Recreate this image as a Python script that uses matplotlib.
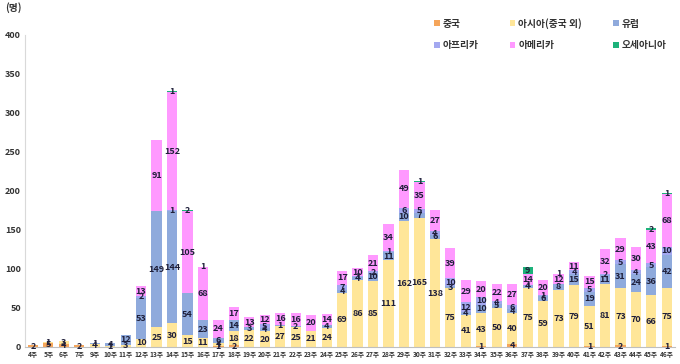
# Weekly stacked bar chart by region

import matplotlib.pyplot as plt
import numpy as np

plt.rcParams['font.family'] = ['Noto Sans CJK KR', 'DejaVu Sans']

# Data (persons per week)
weeks = [4, 5, 6, 7, 9, 10, 11, 12, 13, 14, 15, 16, 17, 18, 19, 20, 21, 22, 23, 24,
         25, 26, 27, 28, 29, 30, 31, 32, 33, 34, 35, 36, 37, 38, 39, 40, 41, 42, 43,
         44, 45, 46]
labels = [f"{w}주" for w in weeks]

china = [2, 5, 4, 2, 0, 0, 0, 0, 0, 0, 0, 0, 1, 2, 0, 0, 0, 0, 0, 0,
         0, 0, 0, 0, 0, 0, 0, 0, 0, 1, 0, 4, 0, 0, 0, 0, 1, 0, 2,
         0, 0, 1]
asia = [0, 1, 3, 0, 4, 1, 3, 10, 25, 30, 15, 11, 4, 18, 22, 20, 27, 25, 21, 24,
        69, 86, 85, 111, 162, 165, 138, 75, 41, 43, 50, 40, 75, 59, 73, 79, 51, 81, 73,
        70, 66, 75]
europe = [0, 0, 0, 0, 1, 4, 12, 53, 149, 144, 54, 23, 6, 14, 3, 4, 1, 2, 0, 4,
          4, 4, 10, 11, 10, 7, 6, 3, 4, 10, 5, 4, 4, 6, 8, 15, 19, 11, 31,
          24, 36, 42]
africa = [0, 0, 0, 0, 0, 0, 0, 2, 0, 1, 0, 0, 0, 0, 0, 5, 0, 0, 0, 0,
          7, 1, 2, 1, 6, 5, 4, 10, 12, 10, 4, 6, 1, 1, 0, 4, 5, 2, 5,
          4, 5, 10]
america = [0, 0, 0, 0, 0, 0, 0, 13, 91, 152, 105, 68, 24, 17, 13, 12, 16, 16, 20, 14,
           17, 10, 21, 34, 49, 35, 27, 39, 29, 20, 22, 27, 14, 20, 12, 11, 15, 32, 29,
           30, 43, 68]
oceania = [0, 0, 0, 0, 0, 0, 0, 0, 0, 1, 2, 1, 0, 0, 0, 0, 0, 0, 0, 0,
           0, 0, 0, 0, 0, 1, 0, 0, 0, 0, 0, 0, 9, 0, 1, 0, 0, 0, 0,
           0, 2, 1]

series = [
    ("중국", china, "#F5A55A"),
    ("아시아(중국 외)", asia, "#FFE699"),
    ("유럽", europe, "#8FAADC"),
    ("아프리카", africa, "#A3A8F0"),
    ("아메리카", america, "#FF99FF"),
    ("오세아니아", oceania, "#1DB27A"),
]

fig = plt.figure(figsize=(6.8, 3.64), dpi=100)
ax = fig.add_axes([0.037, 0.047, 0.955, 0.857])

x = np.arange(len(weeks))
bottom = np.zeros(len(weeks))
handles = []
for name, vals, color in series:
    vals = np.array(vals, dtype=float)
    bars = ax.bar(x, vals, 0.66, bottom=bottom, color=color, label=name)
    handles.append(bars)
    for xi, b, v in zip(x, bottom, vals):
        if v > 0:
            ax.text(xi, b + v / 2, f"{int(v)}", ha="center", va="center",
                    fontsize=6.5, fontweight="bold", color="#1F1F3A")
    bottom += vals

ax.set_xlim(-0.5, len(weeks) - 0.5)
ax.set_ylim(0, 400)
ax.set_yticks(range(0, 401, 50))
ax.set_xticks(x)
ax.set_xticklabels(labels, fontsize=4.8, fontweight="bold", color="#333333")
ax.tick_params(axis="y", labelsize=6.5, length=0, pad=3, labelcolor="#333333")
ax.tick_params(axis="x", length=0, pad=3)
for lbl in ax.get_yticklabels():
    lbl.set_fontweight("bold")
for side in ["top", "right"]:
    ax.spines[side].set_visible(False)
ax.spines["left"].set_color("#D9D9D9")
ax.spines["bottom"].set_color("#BFBFBF")

fig.text(0.008, 0.97, "(명)", fontsize=7, fontweight="bold", color="#333333")

# legend: 2 rows x 3 columns (matplotlib fills column-wise)
order = [0, 3, 1, 4, 2, 5]
leg = fig.legend([handles[i] for i in order], [series[i][0] for i in order],
                 ncol=3, loc="upper left", bbox_to_anchor=(0.625, 0.975),
                 frameon=False, fontsize=7, handlelength=0.6, handleheight=0.6,
                 handletextpad=0.3, columnspacing=3.2, labelspacing=1.2)
for t in leg.get_texts():
    t.set_fontweight("bold")
    t.set_color("#333333")

plt.savefig("out.png", dpi=100)
